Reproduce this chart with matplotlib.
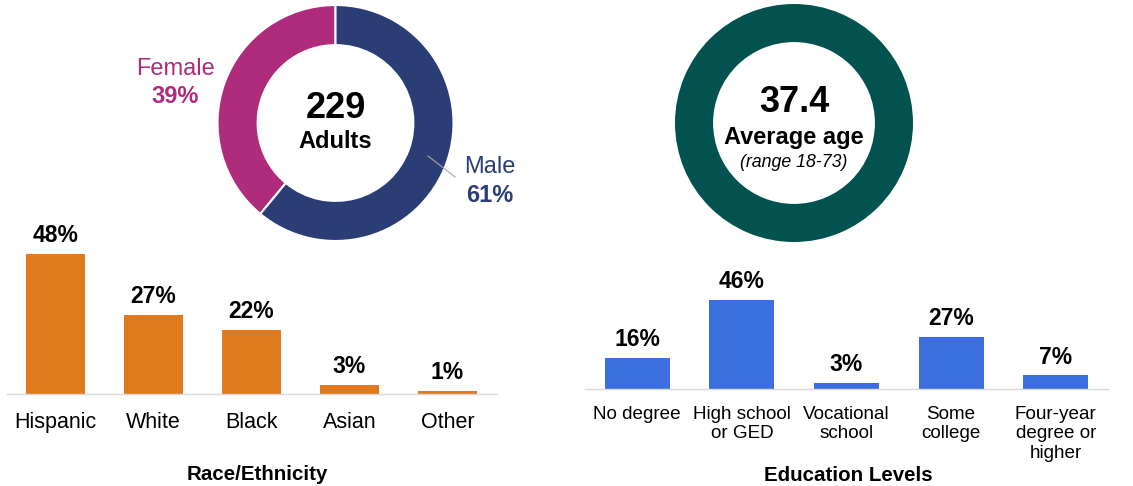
import numpy as np
import matplotlib
matplotlib.use('Agg')
import matplotlib.pyplot as plt
from matplotlib.lines import Line2D

plt.rcParams['font.family'] = ['Liberation Sans', 'DejaVu Sans']

# data
gender_labels = ['Female', 'Male']
gender_pct = [39, 61]
n_adults = 229

age_mean = 37.4
age_min, age_max = 18, 73

race_labels = ['Hispanic', 'White', 'Black', 'Asian', 'Other']
race_pct = [48, 27, 22, 3, 1]

edu_labels = ['No degree', 'High school\nor GED', 'Vocational\nschool', 'Some\ncollege',
              'Four-year\ndegree or\nhigher']
edu_pct = [16, 46, 3, 27, 7]

W, H = 1133, 486
fig = plt.figure(figsize = (W / 100, H / 100), dpi = 100)

def box(x0, y0, x1, y1):
    return [x0 / W, 1 - y1 / H, (x1 - x0) / W, (y1 - y0) / H]

def ftext(x, y, s, **kw):
    fig.text(x / W, 1 - y / H, s, ha = 'center', va = 'baseline', **kw)

# gender donut
ax = fig.add_axes(box(335.5 - 118, 5, 335.5 + 118, 241))
ax.pie(gender_pct, colors = ['#AF2B7B', '#2A3D75'], startangle = 90, counterclock = True,
       radius = 1, wedgeprops = dict(width = 0.34, edgecolor = 'white', linewidth = 1.5))
ax.set_xlim(-1, 1)
ax.set_ylim(-1, 1)
ax.set_aspect('equal')
ax.axis('off')
ftext(335.5, 118, str(n_adults), fontsize = 26, fontweight = 'bold')
ftext(335.5, 148, 'Adults', fontsize = 17, fontweight = 'bold')
ftext(175, 75, gender_labels[0], fontsize = 17, color = '#AF2B7B')
ftext(175, 103, f'{gender_pct[0]}%', fontsize = 17, fontweight = 'bold', color = '#AF2B7B')
ftext(490, 173, gender_labels[1], fontsize = 17, color = '#2A3D75')
ftext(490, 202, f'{gender_pct[1]}%', fontsize = 17, fontweight = 'bold', color = '#2A3D75')
fig.add_artist(Line2D([428 / W, 455 / W], [1 - 156 / H, 1 - 177 / H], color = '#A6A6A6',
                      lw = 0.8, transform = fig.transFigure))

# age donut
ax = fig.add_axes(box(794 - 119, 4, 794 + 119, 242))
ax.pie([1], colors = ['#02524F'], startangle = 90, radius = 1,
       wedgeprops = dict(width = 0.32, edgecolor = 'none'))
ax.set_xlim(-1, 1)
ax.set_ylim(-1, 1)
ax.set_aspect('equal')
ax.axis('off')
ftext(794, 112, f'{age_mean}', fontsize = 26, fontweight = 'bold')
ftext(794, 144, 'Average age', fontsize = 17, fontweight = 'bold')
ftext(794, 167, f'(range {age_min}-{age_max})', fontsize = 12.8, fontstyle = 'italic')

def bars(rect, labels, vals, color, ymax, width, tick_fs, pad, title, title_x, title_y):
    ax = fig.add_axes(rect)
    x = np.arange(len(vals))
    b = ax.bar(x, vals, width = width, color = color)
    ax.bar_label(b, labels = [f'{v}%' for v in vals], padding = 5, fontsize = 16.5,
                 fontweight = 'bold')
    ax.set_xlim(-0.5, len(vals) - 0.5)
    ax.set_ylim(0, ymax)
    for s in ['top', 'right', 'left']:
        ax.spines[s].set_visible(False)
    ax.spines['bottom'].set_color('#D9D9D9')
    ax.spines['bottom'].set_linewidth(1)
    ax.set_yticks([])
    ax.set_xticks(x)
    ax.set_xticklabels(labels, fontsize = tick_fs, va = 'top', ha = 'center')
    ax.tick_params(axis = 'x', length = 0, pad = pad)
    ax.patch.set_alpha(0)
    ftext(title_x, title_y, title, fontsize = 14.8, fontweight = 'bold')

bars(box(6.5, 230, 496.5, 394), race_labels, race_pct, '#DF7A1F', 164 / 2.92, 0.6, 15.5, 13,
     'Race/Ethnicity', 257, 480)
bars(box(585, 270, 1108, 389), edu_labels, edu_pct, '#3C6FDE', 119 / 1.935, 0.62, 13.6, 12,
     'Education Levels', 848, 481)

plt.savefig('out.png', dpi = 100)
